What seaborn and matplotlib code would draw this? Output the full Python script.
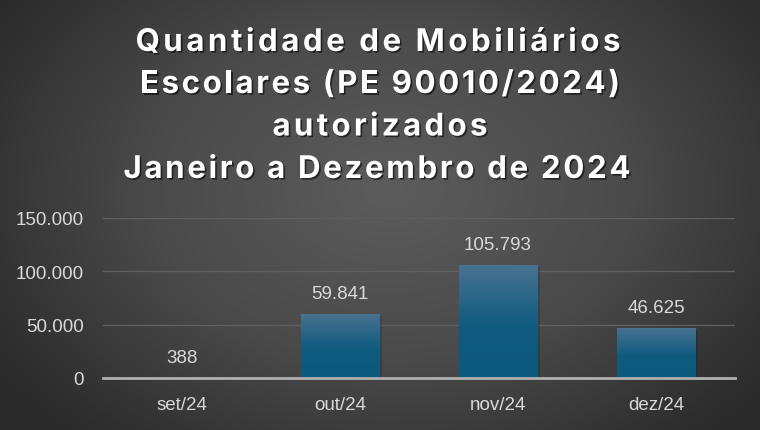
import numpy as np
import pandas as pd
import matplotlib
matplotlib.use("Agg")
import matplotlib.pyplot as plt
import seaborn as sns
from matplotlib import patheffects, font_manager
from matplotlib.ft2font import FT2Font
from matplotlib.colors import LinearSegmentedColormap

# dados
meses = ["set/24", "out/24", "nov/24", "dez/24"]
quantidades = [388, 59841, 105793, 46625]
y_ticks = [0, 50000, 100000, 150000]
titulo = ["Quantidade de Mobiliários",
          "Escolares (PE 90010/2024)",
          "autorizados",
          "Janeiro a Dezembro de 2024"]


def fmt_br(v):
    return f"{v:,.0f}".replace(",", ".")


df = pd.DataFrame({"mes": meses, "quantidade": quantidades})

sns.set_theme(style="dark")
plt.rcParams["font.family"] = ["Liberation Sans", "DejaVu Sans"]

W, H = 760, 431
fig = plt.figure(figsize=(W / 100, H / 100), dpi=100)

# fundo com gradiente radial
bg = fig.add_axes([0, 0, 1, 1], zorder=0)
yy, xx = np.mgrid[0:H, 0:W]
r = np.sqrt(((xx - 390) / 480) ** 2 + ((yy - 190) / 340) ** 2)
cmap_bg = LinearSegmentedColormap.from_list("bg", ["#5c5c5c", "#4a4a4a", "#292929"])
bg.imshow(np.clip(r, 0, 1), cmap=cmap_bg, vmin=0, vmax=1, aspect="auto")
bg.axis("off")

# eixo principal
ax = fig.add_axes([103 / W, 1 - 379 / H, (735 - 103) / W, 160 / H], zorder=1)
ax.patch.set_alpha(0)
sns.barplot(data=df, x="mes", y="quantidade", width=0.5, color="#0f5b80",
            saturation=1, ax=ax, zorder=2, edgecolor="none", linewidth=0)

# gradiente nas barras
cmap_bar = LinearSegmentedColormap.from_list(
    "barra", [(0, "#48728f"), (0.55, "#0f5b80"), (1, "#0c597e")])
grad = np.linspace(0, 1, 256).reshape(-1, 1)
for p in ax.patches:
    x0, w, h = p.get_x(), p.get_width(), p.get_height()
    p.set_path_effects([patheffects.SimplePatchShadow(offset=(1.5, -1), alpha=0.2),
                        patheffects.Normal()])
    im = ax.imshow(grad, cmap=cmap_bar, aspect="auto", extent=[x0, x0 + w, 0, h],
                   zorder=2.5, origin="upper")
    im.set_clip_path(p)

ax.set_xlim(-0.5, 3.5)
ax.set_ylim(0, 150000)
ax.set_yticks(y_ticks)
ax.set_yticklabels([fmt_br(v) for v in y_ticks])
ax.set_xlabel("")
ax.set_ylabel("")
ax.yaxis.grid(True, color="#5f5f5f", lw=1)
ax.xaxis.grid(False)
ax.set_axisbelow(True)
for s in ["top", "right", "left"]:
    ax.spines[s].set_visible(False)
ax.spines["bottom"].set_color("#b0b0b0")
ax.spines["bottom"].set_linewidth(2)
ax.spines["bottom"].set_zorder(3)
ax.tick_params(axis="y", length=0, pad=14, labelsize=13.5, labelcolor="#d9d9d9")
ax.tick_params(axis="x", which="major", length=0, pad=13, labelsize=13.5,
               labelcolor="#d9d9d9")
ax.set_xticks([-0.5, 0.5, 1.5, 2.5, 3.5], minor=True)
ax.tick_params(axis="x", which="minor", length=4, width=1.5, color="#b0b0b0",
               direction="out")

# rótulos de valor
for i, v in enumerate(quantidades):
    ax.annotate(fmt_br(v), (i, v), xytext=(0, 11.5), textcoords="offset points",
                ha="center", va="baseline", fontsize=13.5, color="#d9d9d9")

# título com espaçamento entre letras
fp = font_manager.FontProperties(family="Inter", weight="bold")
fpath = font_manager.findfont(fp)
font = FT2Font(fpath)
tam = 22.5
font.set_size(tam, 100)


def avancos(linha):
    out = []
    for c in linha:
        g = font.load_char(ord(c))
        out.append(g.linearHoriAdvance / 65536)
    return out


larguras = [485, 480, 215, 507]
baselines = [52, 94, 136.5, 179]
centros = [378, 380, 380, 377]
sombra = [patheffects.SimplePatchShadow(offset=(1.2, -1.2), shadow_rgbFace="black",
                                        alpha=0.55),
          patheffects.Normal()]
for linha, yb, larg, xc in zip(titulo, baselines, larguras, centros):
    adv = avancos(linha)
    track = (larg - sum(adv)) / (len(linha) - 1)
    x = xc - larg / 2
    for c, a in zip(linha, adv):
        if c != " ":
            fig.text((x + a / 2) / W, 1 - yb / H, c, fontproperties=fp, fontsize=tam,
                     color="white", ha="center", va="baseline", zorder=5,
                     path_effects=sombra)
        x += a + track

fig.savefig("out.png", dpi=100)
